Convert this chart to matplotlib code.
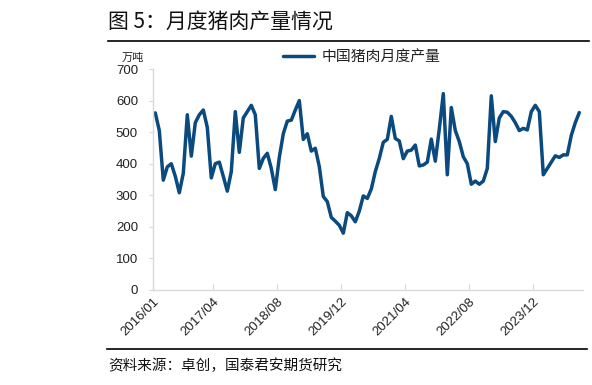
import matplotlib
matplotlib.use("Agg")
import matplotlib.pyplot as plt
import pandas as pd

plt.rcParams['font.family'] = ['Liberation Sans', 'Noto Sans CJK SC', 'DejaVu Sans']

# ---- data (万吨), monthly from 2016/01 ----
start_month = "2016-01"
values = [561, 505, 348, 390, 400, 360, 308, 370, 555, 424,
          530, 555, 570, 515, 355, 400, 405, 360, 313, 375,
          565, 436, 545, 565, 585, 555, 385, 417, 433, 385,
          318, 420, 495, 535, 538, 570, 600, 477, 495, 440,
          449, 391, 296, 280, 230, 218, 205, 180, 245, 235,
          216, 250, 298, 290, 320, 375, 417, 468, 477, 550,
          480, 472, 416, 440, 443, 459, 393, 396, 405, 478,
          408, 510, 622, 365, 578, 505, 470, 422, 400, 335,
          345, 335, 345, 385, 615, 470, 545, 565, 563, 550,
          530, 505, 512, 507, 565, 585, 565, 365, 385, 405,
          425, 420, 428, 428, 490, 530, 562]
tick_labels = ["2016/01", "2017/04", "2018/08", "2019/12", "2021/04", "2022/08", "2023/12"]
series_name = "中国猪肉月度产量"
y_ticks = [0, 100, 200, 300, 400, 500, 600, 700]

dates = pd.period_range(start=start_month, periods=len(values), freq="M")
base = pd.Period(start_month, freq="M")
x = [(d - base).n + 0.5 for d in dates]
tick_pos = [(pd.Period(t.replace("/", "-"), freq="M") - base).n for t in tick_labels]

W, H = 592, 385
fig = plt.figure(figsize=(W / 100, H / 100), dpi=100)
ax = fig.add_axes([153.3 / W, 1 - 290 / H, (582.7 - 153.3) / W, (290 - 69) / H])

line_color = "#0A4A7E"
ax.plot(x, values, color=line_color, lw=2.5, solid_joinstyle="round",
        solid_capstyle="round", label=series_name)

ax.set_xlim(0, 107.35)
ax.set_ylim(0, 700)
ax.set_yticks(y_ticks)
ax.set_yticklabels([str(v) for v in y_ticks], fontsize=9.5, color="#222222")
ax.set_xticks(tick_pos)
ax.set_xticklabels(tick_labels, rotation=45, ha="right", va="top",
                   rotation_mode="anchor", fontsize=9.5, color="#222222")

for s in ["top", "right"]:
    ax.spines[s].set_visible(False)
for s in ["left", "bottom"]:
    ax.spines[s].set_color("#D9D9D9")
    ax.spines[s].set_linewidth(1.0)
ax.tick_params(axis="y", direction="out", length=3, color="#D9D9D9", pad=8)
ax.tick_params(axis="x", direction="in", length=4, color="#D9D9D9", pad=4)

# unit label
fig.text(122 / W, 1 - 58 / H, "万吨", fontsize=8, family=["Noto Sans CJK SC"],
         va="center", ha="left", color="#222222")

# legend
leg = ax.legend(loc="center left", bbox_to_anchor=(283 / W, 1 - 57 / H),
                bbox_transform=fig.transFigure, frameon=False, borderpad=0,
                borderaxespad=0, handlelength=2.1, handletextpad=0.5,
                prop={"family": "Noto Sans CJK SC", "size": 10.7})
for t in leg.get_texts():
    t.set_color("#222222")

# title
fig.text(108 / W, 1 - 22 / H, "图 5：月度猪肉产量情况", fontsize=15,
         family=["Noto Sans CJK SC", "DejaVu Sans"], va="center", ha="left",
         color="#111111")
fig.add_artist(plt.Line2D([108 / W, 589 / W], [1 - 41 / H, 1 - 41 / H],
                          color="black", lw=1.2, transform=fig.transFigure))

# source
fig.add_artist(plt.Line2D([107 / W, 587 / W], [1 - 349 / H, 1 - 349 / H],
                          color="black", lw=1.2, transform=fig.transFigure))
fig.text(108 / W, 1 - 366 / H, "资料来源：卓创，国泰君安期货研究", fontsize=10.5,
         family=["Noto Sans CJK SC"], va="center", ha="left", color="#111111")

fig.savefig("out.png", dpi=100)
